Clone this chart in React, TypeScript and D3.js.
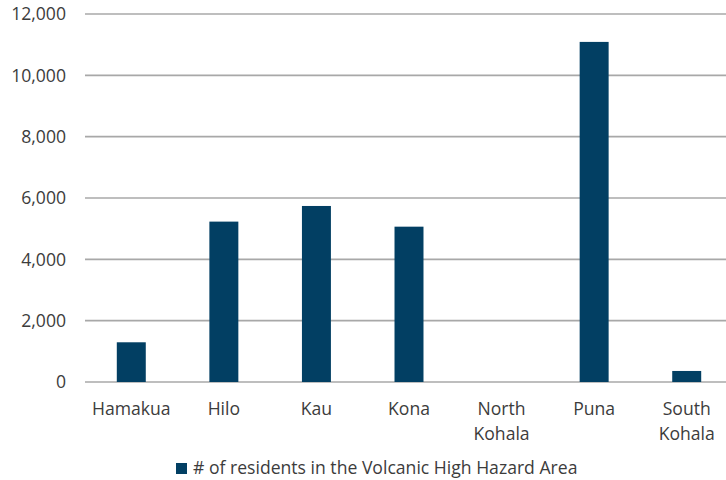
import React from "react";
import * as d3 from "d3";

const districts = ["Hamakua", "Hilo", "Kau", "Kona", "North Kohala", "Puna", "South Kohala"];
const residents = [1295, 5230, 5740, 5065, 0, 11090, 360];
const yTicks = [0, 2000, 4000, 6000, 8000, 10000, 12000];
const seriesName = "# of residents in the Volcanic High Hazard Area";

const W = 726;
const H = 480;
const FONT = "'Open Sans', sans-serif";
const FS = 17.6;
const TEXT = "#3c3c3c";
const BAR = "#023f63";
const GRID = "#a8a8a8";

export default function App() {
  const x = d3
    .scaleBand<string>()
    .domain(districts)
    .range([85, 733])
    .paddingInner(0.687)
    .paddingOuter(0.3435);
  const y = d3.scaleLinear().domain([0, 12000]).range([382, 14]);
  const fmt = d3.format(",");

  return (
    <svg
      width={W}
      height={H}
      style={{ position: "absolute", left: 0, top: 0, background: "#fff" }}
      fontFamily={FONT}
    >
      {yTicks.map((t) => (
        <g key={t}>
          <line x1={85} x2={W} y1={y(t)} y2={y(t)} stroke={GRID} strokeWidth={1.6} />
          <text x={66} y={y(t)} dy="0.36em" textAnchor="end" fontSize={FS} fill={TEXT}>
            {fmt(t)}
          </text>
        </g>
      ))}
      {districts.map((d, i) => (
        <rect
          key={d}
          x={x(d)}
          width={x.bandwidth()}
          y={y(residents[i])}
          height={y(0) - y(residents[i])}
          fill={BAR}
        />
      ))}
      {districts.map((d) => {
        const cx = (x(d) as number) + x.bandwidth() / 2;
        const words = d.split(" ");
        return (
          <text key={d} x={cx} y={415} textAnchor="middle" fontSize={FS} fill={TEXT}>
            {words.map((w, j) => (
              <tspan key={j} x={cx} dy={j === 0 ? 0 : 25}>
                {w}
              </tspan>
            ))}
          </text>
        );
      })}
      <g>
        <rect x={176} y={463} width={11} height={11} fill={BAR} />
        <text x={193} y={474} fontSize={FS} fill={TEXT}>
          {seriesName}
        </text>
      </g>
    </svg>
  );
}
